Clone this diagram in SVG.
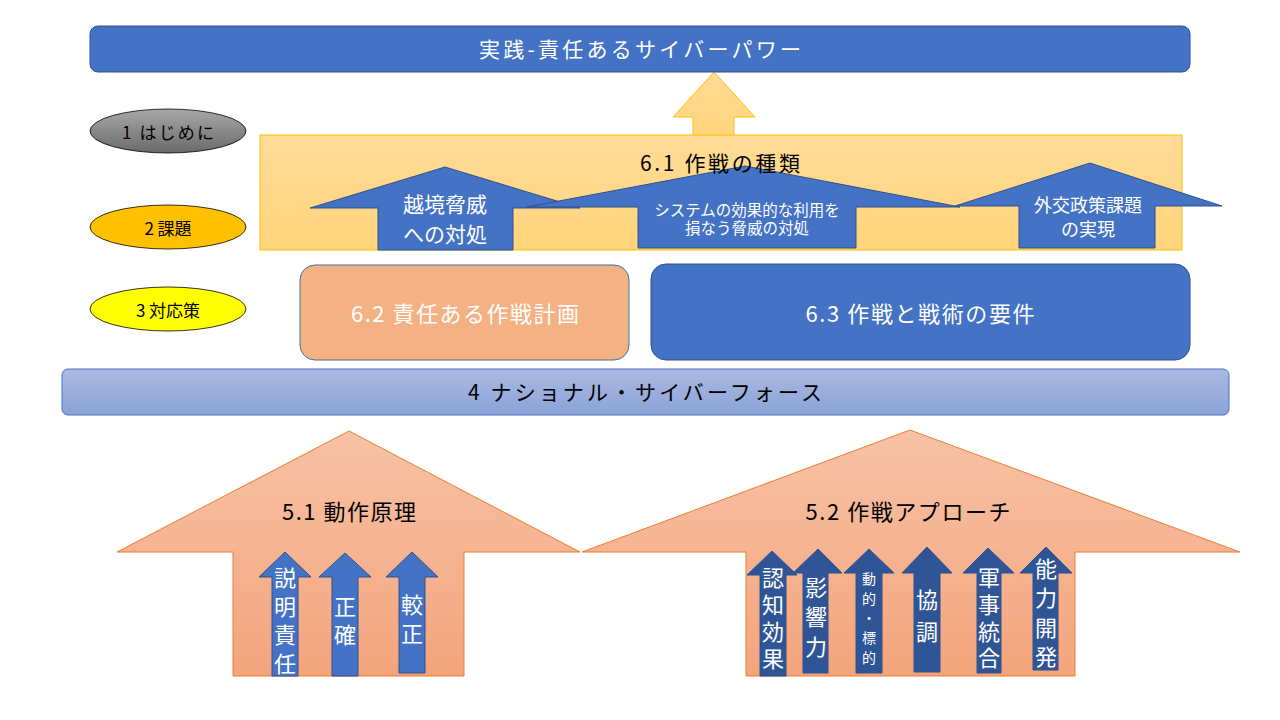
<svg xmlns="http://www.w3.org/2000/svg" width="1280" height="720" viewBox="0 0 1280 720">
<defs>
<linearGradient id="gYel" x1="0" y1="0" x2="0" y2="1"><stop offset="0" stop-color="#FFDB97"/><stop offset="1" stop-color="#FFD47B"/></linearGradient>
<linearGradient id="gOr" x1="0" y1="0" x2="0" y2="1"><stop offset="0" stop-color="#F7C2A6"/><stop offset="1" stop-color="#F4A47C"/></linearGradient>
<linearGradient id="gBar" x1="0" y1="0" x2="0" y2="1"><stop offset="0" stop-color="#AAB9E2"/><stop offset="1" stop-color="#8BA3D8"/></linearGradient>
<linearGradient id="gGray" x1="0" y1="0" x2="0" y2="1"><stop offset="0" stop-color="#A8A8A8"/><stop offset="1" stop-color="#6A6A6A"/></linearGradient>
<style>
text{font-family:"Noto Sans CJK JP","Noto Sans",sans-serif;text-anchor:middle;dominant-baseline:central;}
.w{fill:#FFFFFF;}
.k{fill:#000000;}
.blue{fill:#4472C4;stroke:#2F528F;stroke-width:1;}
.dblue{fill:#2F5597;stroke:#2F528F;stroke-width:1;}
.big{fill:url(#gOr);stroke:#ED7D31;stroke-width:1;}
.ell{stroke:#000000;stroke-width:0.8;}
</style>
</defs>
<g id="connectors">
<polygon points="714,72 755,117 734,117 734,136 693,136 693,117 673,117" fill="url(#gYel)" stroke="#FFC000" stroke-width="1"/>
</g>
<g id="title">
<rect x="90" y="26" width="1100" height="46" rx="8" class="blue"/>
<text x="640" y="48" font-size="21" class="w" textLength="322" lengthAdjust="spacing">実践-責任あるサイバーパワー</text>
</g>
<g id="e1">
<ellipse cx="168" cy="131" rx="78" ry="22" fill="url(#gGray)" class="ell"/>
<text x="168" y="131" font-size="17" class="k" textLength="92" lengthAdjust="spacing">1 はじめに</text>
</g>
<g id="e2">
<ellipse cx="168" cy="227" rx="78" ry="22" fill="#FFC000" class="ell"/>
<text x="168" y="227" font-size="17" class="k">2 課題</text>
</g>
<g id="e3">
<ellipse cx="168" cy="309" rx="78" ry="22" fill="#FFFF00" class="ell"/>
<text x="168" y="309" font-size="17" class="k">3 対応策</text>
</g>
<g id="n61">
<rect x="260" y="135" width="922" height="115" fill="url(#gYel)" stroke="#FFC000" stroke-width="1"/>
</g>
<g id="t1">
<polygon points="445,167 580,208 513,208 513,250 378,250 378,208 310,208" class="blue"/>
<text x="445" y="203" font-size="21" class="w">越境脅威</text>
<text x="445" y="233" font-size="21" class="w">への対処</text>
</g>
<g id="t2">
<polygon points="745,166 960,207 856,207 856,248 638,248 638,207 527,207" class="blue"/>
<text x="747" y="209" font-size="15.5" class="w">システムの効果的な利用を</text>
<text x="747" y="227" font-size="15.5" class="w">損なう脅威の対処</text>
</g>
<g id="t3">
<polygon points="1090,163 1222,206 1155,206 1155,248 1019,248 1019,206 955,206" class="blue"/>
<text x="1088" y="204" font-size="18" class="w">外交政策課題</text>
<text x="1088" y="228" font-size="18" class="w">の実現</text>
</g>
<g id="n61label">
<text x="720" y="162" font-size="21" class="k" textLength="160" lengthAdjust="spacing">6.1 作戦の種類</text>
</g>
<g id="n62">
<rect x="300" y="265" width="329" height="95" rx="15" fill="#F4B183" stroke="#41719C" stroke-width="1"/>
<text x="465" y="312" font-size="22" class="w" textLength="228" lengthAdjust="spacing">6.2 責任ある作戦計画</text>
</g>
<g id="n63">
<rect x="651" y="264" width="539" height="96" rx="15" class="blue"/>
<text x="920" y="312" font-size="22" class="w" textLength="229" lengthAdjust="spacing">6.3 作戦と戦術の要件</text>
</g>
<g id="n4">
<rect x="62" y="369" width="1167" height="46" rx="6" fill="url(#gBar)" stroke="#4472C4" stroke-width="1"/>
<text x="645" y="391" font-size="21" class="k" textLength="354" lengthAdjust="spacing">4 ナショナル・サイバーフォース</text>
</g>
<g id="n51">
<polygon points="349,431 580,552 464,552 464,676 233,676 233,552 117,552" class="big"/>
<text x="349" y="510" font-size="22" class="k" textLength="134" lengthAdjust="spacing">5.1 動作原理</text>
</g>
<g id="n52">
<polygon points="910,430 1240,552 1075,552 1075,676 746,676 746,552 582,552" class="big"/>
<text x="908" y="510" font-size="22" class="k" textLength="205" lengthAdjust="spacing">5.2 作戦アプローチ</text>
</g>
<g id="a1">
<polygon points="285,552 311,577 298,577 298,676 272,676 272,577 259,577" class="blue"/>
<text x="285" y="576" font-size="22" class="w">説</text>
<text x="285" y="605" font-size="22" class="w">明</text>
<text x="285" y="633" font-size="22" class="w">責</text>
<text x="285" y="662" font-size="22" class="w">任</text>
</g>
<g id="a2">
<polygon points="345,553 371,577 358,577 358,676 332,676 332,577 319,577" class="blue"/>
<text x="345" y="605" font-size="22" class="w">正</text>
<text x="345" y="633" font-size="22" class="w">確</text>
</g>
<g id="a3">
<polygon points="412,552 438,577 425,577 425,673 399,673 399,577 386,577" class="blue"/>
<text x="412" y="603" font-size="22" class="w">較</text>
<text x="412" y="632" font-size="22" class="w">正</text>
</g>
<g id="b1">
<polygon points="772,551 797,575 786,575 786,676 760,676 760,575 747,575" class="dblue"/>
<text x="773" y="576" font-size="22" class="w">認</text>
<text x="773" y="603" font-size="22" class="w">知</text>
<text x="773" y="630" font-size="22" class="w">効</text>
<text x="773" y="657" font-size="22" class="w">果</text>
</g>
<g id="b2">
<polygon points="818,549 842,573 828,573 828,673 803,673 803,573 793,573" class="dblue"/>
<text x="816" y="586" font-size="22" class="w">影</text>
<text x="816" y="615" font-size="22" class="w">響</text>
<text x="816" y="645" font-size="22" class="w">力</text>
</g>
<g id="b3">
<polygon points="869,549 894,573 882,573 882,673 856,673 856,573 844,573" class="dblue"/>
<text x="869" y="578" font-size="14" class="w">動</text>
<text x="869" y="598" font-size="14" class="w">的</text>
<text x="869" y="617" font-size="14" class="w">・</text>
<text x="869" y="637" font-size="14" class="w">標</text>
<text x="869" y="657" font-size="14" class="w">的</text>
</g>
<g id="b4">
<polygon points="927,547 952,573 940,573 940,672 914,672 914,573 902,573" class="dblue"/>
<text x="927" y="598" font-size="22" class="w">協</text>
<text x="927" y="630" font-size="22" class="w">調</text>
</g>
<g id="b5">
<polygon points="988,548 1014,573 1001,573 1001,673 977,673 977,573 963,573" class="dblue"/>
<text x="989" y="576" font-size="22" class="w">軍</text>
<text x="989" y="603" font-size="22" class="w">事</text>
<text x="989" y="630" font-size="22" class="w">統</text>
<text x="989" y="656" font-size="22" class="w">合</text>
</g>
<g id="b6">
<polygon points="1046,547 1072,573 1058,573 1058,670 1033,670 1033,573 1020,573" class="dblue"/>
<text x="1046" y="567" font-size="22" class="w">能</text>
<text x="1046" y="596" font-size="22" class="w">力</text>
<text x="1046" y="626" font-size="22" class="w">開</text>
<text x="1046" y="655" font-size="22" class="w">発</text>
</g>
</svg>
